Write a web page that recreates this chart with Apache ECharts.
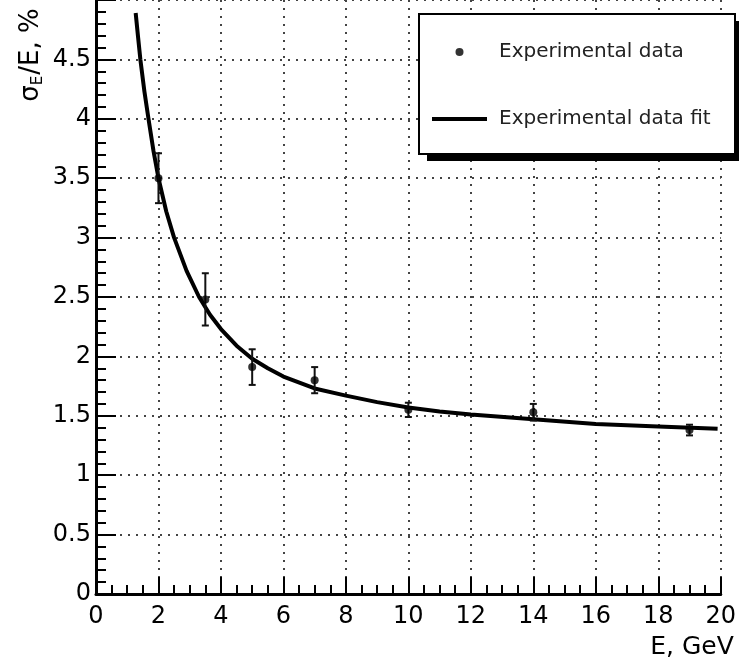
<!DOCTYPE html>
<html>
<head>
<meta charset="utf-8">
<script src="https://cdn.jsdelivr.net/npm/echarts@6/dist/echarts.min.js"></script>
<style>
  html, body { margin: 0; padding: 0; background: #fff; }
  #chart { width: 739px; height: 666px; }
</style>
</head>
<body>
<div id="chart"></div>
<script>
// ---- data ----
const energies = [2, 3.5, 5, 7, 10, 14, 19];
const sigmaValues = [3.50, 2.48, 1.91, 1.80, 1.55, 1.53, 1.38];
const sigmaErrors = [0.21, 0.22, 0.15, 0.11, 0.06, 0.07, 0.045];

const fitEnergies = [1.27, 1.35, 1.42, 1.55, 1.68, 1.84, 2.0, 2.25, 2.5, 2.9, 3.3, 3.65, 4, 4.5, 5, 5.5, 6, 7, 8, 9, 10, 11, 12, 14, 16, 18, 19.9];
const fitSigma = [4.89, 4.68, 4.5, 4.23, 4.0, 3.73, 3.5, 3.22, 3.0, 2.72, 2.5, 2.35, 2.23, 2.09, 1.98, 1.90, 1.83, 1.73, 1.67, 1.615, 1.57, 1.537, 1.51, 1.47, 1.43, 1.41, 1.39];

const xTicks = { min: 0, max: 20, interval: 2 };
const yTicks = { min: 0, max: 5, interval: 0.5 };

const seriesNames = ['Experimental data', 'Experimental data fit'];

// ---- build ----
const FONT = 'DejaVu Sans';
const pointData = energies.map((e, i) => [e, sigmaValues[i]]);
const errData = energies.map((e, i) => [e, sigmaValues[i] - sigmaErrors[i], sigmaValues[i] + sigmaErrors[i]]);
const fitData = fitEnergies.map((e, i) => [e, fitSigma[i]]);

const gridLine = { show: true, lineStyle: { color: '#444', width: 2, type: [2, 6] } };

const chart = echarts.init(document.getElementById('chart'));
chart.setOption({
  animation: false,
  backgroundColor: '#fff',
  grid: { left: 96, right: 12, top: -6, bottom: 72, containLabel: false },
  xAxis: {
    type: 'value', min: xTicks.min, max: xTicks.max, interval: xTicks.interval,
    name: 'E, GeV', nameLocation: 'end', nameGap: 13,
    nameTextStyle: { fontFamily: FONT, fontSize: 25, color: '#000', align: 'right', verticalAlign: 'top', padding: [41, 0, 0, 0] },
    axisLine: { show: true, onZero: false, lineStyle: { color: '#000', width: 3 } },
    axisTick: { show: true, inside: true, length: 17, lineStyle: { color: '#000', width: 2 } },
    minorTick: { show: true, splitNumber: 4, length: 9, lineStyle: { color: '#000', width: 2 } },
    axisLabel: { fontFamily: FONT, fontSize: 24, color: '#000', margin: 11 },
    splitLine: gridLine
  },
  yAxis: {
    type: 'value', min: yTicks.min, max: yTicks.max, interval: yTicks.interval,
    axisLine: { show: true, onZero: false, lineStyle: { color: '#000', width: 3 } },
    axisTick: { show: true, inside: true, length: 20, lineStyle: { color: '#000', width: 2 } },
    minorTick: { show: true, splitNumber: 5, length: 10, lineStyle: { color: '#000', width: 2 } },
    axisLabel: { fontFamily: FONT, fontSize: 24, color: '#000', margin: 5, showMaxLabel: false },
    splitLine: gridLine
  },
  legend: {
    z: 20,
    orient: 'vertical', left: 432, top: 39, padding: 0,
    itemWidth: 55, itemHeight: 8, itemGap: 41,
    data: [
      { name: seriesNames[0], icon: 'circle' },
      { name: seriesNames[1], icon: 'path://M0,0H55V4H0Z' }
    ],
    textStyle: { fontFamily: FONT, fontSize: 20, color: '#222', lineHeight: 26, padding: [0, 0, 0, 7] }
  },
  graphic: [
    { type: 'rect', z: 10, shape: { x: 427, y: 21, width: 320, height: 140 }, style: { fill: '#000' } },
    { type: 'rect', z: 11, shape: { x: 419, y: 14, width: 316, height: 140 }, style: { fill: '#fff', stroke: '#000', lineWidth: 2 } },
    {
      type: 'text', z: 12, x: 31, y: 55, rotation: Math.PI / 2,
      style: {
        text: '{a|σ}{b|E}{a|/E, %}',
        align: 'center', verticalAlign: 'middle', fill: '#000',
        rich: {
          a: { fontFamily: FONT, fontSize: 26, fill: '#000' },
          b: { fontFamily: FONT, fontSize: 15, fill: '#000', padding: [14, 1, 0, 0], verticalAlign: 'bottom' }
        }
      }
    }
  ],
  series: [
    {
      name: seriesNames[1], type: 'line', data: fitData, smooth: false,
      showSymbol: false, symbol: 'none', z: 3,
      lineStyle: { color: '#000', width: 4, join: 'round' }, itemStyle: { color: '#000' }
    },
    {
      name: 'errors', type: 'custom', data: errData, z: 4,
      renderItem: function (params, api) {
        const x = api.value(0);
        const top = api.coord([x, api.value(2)]);
        const bot = api.coord([x, api.value(1)]);
        const cap = 3.5;
        const st = { stroke: '#111', lineWidth: 2 };
        return {
          type: 'group', children: [
            { type: 'line', shape: { x1: top[0], y1: top[1], x2: bot[0], y2: bot[1] }, style: st },
            { type: 'line', shape: { x1: top[0] - cap, y1: top[1], x2: top[0] + cap, y2: top[1] }, style: st },
            { type: 'line', shape: { x1: bot[0] - cap, y1: bot[1], x2: bot[0] + cap, y2: bot[1] }, style: st }
          ]
        };
      }
    },
    {
      name: seriesNames[0], type: 'scatter', data: pointData, symbol: 'circle', symbolSize: 8, z: 5,
      itemStyle: { color: '#000' }
    }
  ]
});
</script>
</body>
</html>
